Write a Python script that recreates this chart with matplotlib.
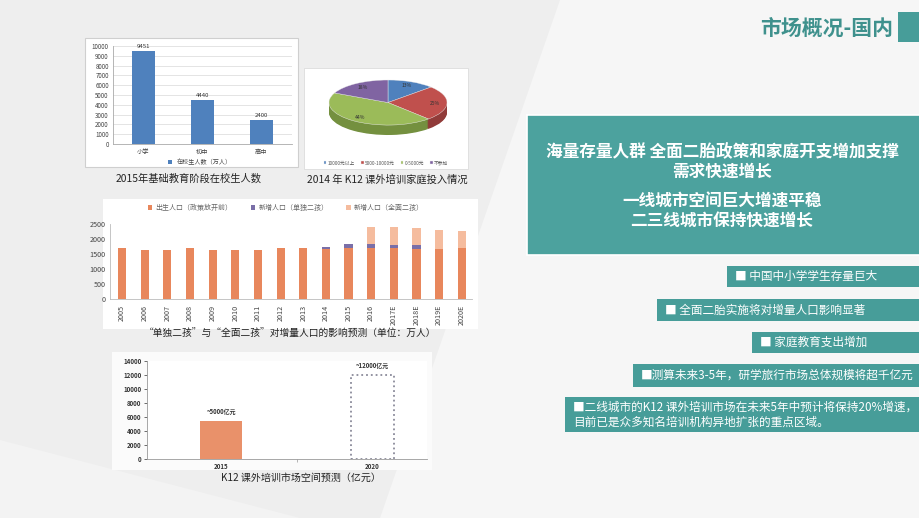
import numpy as np
import matplotlib
matplotlib.use("Agg")
import matplotlib.pyplot as plt
from matplotlib.patches import Rectangle, Polygon

plt.rcParams['font.family'] = ['Noto Sans CJK SC', 'DejaVu Sans']

W, H = 920, 518

# === Données ===
stage_names = ['小学', '初中', '高中']
stage_students = [9451, 4440, 2400]

pie_labels = ['10000元以上', '5000-10000元', '0-5000元', '不参加']
pie_shares = [13, 25, 44, 18]

years = ['2005', '2006', '2007', '2008', '2009', '2010', '2011', '2012',
         '2013', '2014', '2015', '2016', '2017E', '2018E', '2019E', '2020E']
births_base = [1690, 1635, 1635, 1690, 1635, 1635, 1635, 1690,
               1690, 1670, 1710, 1710, 1710, 1670, 1670, 1690]
add_single = [0, 0, 0, 0, 0, 0, 0, 0, 0, 50, 110, 110, 90, 130, 0, 0]
add_full = [0, 0, 0, 0, 0, 0, 0, 0, 0, 0, 0, 590, 610, 580, 640, 590]
pop_legend = ['出生人口（政策放开前）', '新增人口（单独二孩）', '新增人口（全面二孩）']

market_years = ['2015', '2020']
market_size = [5400, 12000]
market_notes = ['~5000亿元', '~12000亿元']

headline = ['海量存量人群 全面二胎政策和家庭开支增加支撑', '需求快速增长',
            '一线城市空间巨大增速平稳', '二三线城市保持快速增长']
bullets = ['■ 中国中小学学生存量巨大',
           '■ 全面二胎实施将对增量人口影响显著',
           '■ 家庭教育支出增加',
           '■测算未来3-5年，研学旅行市场总体规模将超千亿元',
           '■二线城市的K12 课外培训市场在未来5年中预计将保持20%增速，\n目前已是众多知名培训机构异地扩张的重点区域。']

TEAL = '#479d99'


def box(x0, y0, x1, y1):
    # pixels -> fraction de figure
    return [x0 / W, 1 - y1 / H, (x1 - x0) / W, (y1 - y0) / H]


def fpos(x, y):
    return (x / W, 1 - y / H)


fig = plt.figure(figsize=(W / 100, H / 100), dpi=100)
fig.patch.set_facecolor('#eeeeee')

# === Fond et éléments de la diapo ===
bg = fig.add_axes([0, 0, 1, 1])
bg.set_xlim(0, W)
bg.set_ylim(H, 0)
bg.axis('off')
bg.add_patch(Polygon([(560, 0), (920, 0), (920, 518), (380, 518)], color='#f6f6f6', lw=0))
bg.add_patch(Polygon([(0, 440), (300, 518), (0, 518)], color='#f3f3f3', lw=0))

# titre
bg.text(893, 28, '市场概况-国内', ha='right', va='center', fontsize=15,
        fontweight='bold', color='#3f918d')
bg.add_patch(Rectangle((898, 12), 22, 30, color=TEAL, lw=0))

# grand encadré
bg.add_patch(Rectangle((527, 115), 393, 140, facecolor='#4ca29e', edgecolor='white', lw=1.2))
for txt, y in zip(headline, [152, 172, 202, 222]):
    bg.text(722, y, txt, ha='center', va='center', fontsize=12, fontweight='bold', color='white')

# puces
bullet_boxes = [(727, 266, 287), (657, 299, 321), (752, 332, 353), (633, 364, 387), (565, 397, 432)]
for txt, (x0, y0, y1) in zip(bullets, bullet_boxes):
    bg.add_patch(Rectangle((x0, y0), W - x0, y1 - y0, color=TEAL, lw=0))
    bg.text(x0 + 8, (y0 + y1) / 2, txt, ha='left', va='center', fontsize=8.4,
            color='white', linespacing=1.15)

# cadres blancs des graphiques
bg.add_patch(Rectangle((85, 38), 213, 129, facecolor='white', edgecolor='#cfcfcf', lw=0.8))
bg.add_patch(Rectangle((304, 68), 164, 101, facecolor='white', edgecolor='#dcdcdc', lw=0.6))
bg.add_patch(Rectangle((103, 199), 375, 130, facecolor='white', lw=0))
bg.add_patch(Rectangle((112, 352), 320, 118, facecolor='#fbfbfb', lw=0))

# légendes sous les graphiques
bg.text(189, 179, '2015年基础教育阶段在校生人数', ha='center', va='center', fontsize=7.4, color='#222')
bg.text(387, 180, '2014 年 K12 课外培训家庭投入情况', ha='center', va='center', fontsize=7.4, color='#222')
bg.text(290, 334, '“单独二孩”与“全面二孩”对增量人口的影响预测（单位：万人）',
        ha='center', va='center', fontsize=7, color='#222')
bg.text(301, 478, 'K12 课外培训市场空间预测（亿元）', ha='center', va='center', fontsize=7.2, color='#222')

# === Graphique 1 : élèves ===
a1 = fig.add_axes(box(113, 46, 292, 144))
x1 = np.arange(len(stage_names))
b1 = a1.bar(x1, stage_students, width=0.39, color='#4f81bd', label='在校生人数（万人）', zorder=3)
for xi, v in zip(x1, stage_students):
    a1.text(xi, v + 250, str(v), ha='center', va='bottom', fontsize=4.3, color='#333')
a1.set_xlim(-0.51, 2.52)
a1.set_ylim(0, 10000)
a1.set_yticks(range(0, 10001, 1000))
a1.set_xticks(x1)
a1.set_xticklabels(stage_names)
a1.tick_params(labelsize=4.5, colors='#444', length=0, pad=3)
a1.grid(axis='y', color='#d9d9d9', lw=0.5, zorder=0)
for s in ['top', 'right']:
    a1.spines[s].set_visible(False)
for s in ['left', 'bottom']:
    a1.spines[s].set_color('#aaa')
    a1.spines[s].set_linewidth(0.6)
fig.legend(handles=[b1], loc='center', bbox_to_anchor=fpos(200, 162), frameon=False,
           fontsize=4.4, handlelength=0.7, handleheight=0.7, labelcolor='#444')

# === Graphique 2 : camembert 3D ===
a2 = fig.add_axes(box(329, 80, 447, 135))
top_cols = ['#4f81bd', '#c0504d', '#9bbb59', '#8064a2']
side_cols = ['#3b6596', '#913b39', '#74903f', '#5f4a7c']
for d in np.linspace(0.44, 0.02, 14):
    a2.pie(pie_shares, colors=side_cols, startangle=90, counterclock=False,
           center=(0, -d), wedgeprops={'linewidth': 0})
wedges, _, autotexts = a2.pie(pie_shares, colors=top_cols, startangle=90, counterclock=False,
                              autopct='%d%%', pctdistance=0.8,
                              textprops={'fontsize': 3.6, 'color': '#333'},
                              wedgeprops={'linewidth': 0.3, 'edgecolor': '#eeeeee'})
a2.set_aspect('auto')
a2.set_xlim(-1, 1)
a2.set_ylim(-1.44, 1)
a2.axis('off')
fig.legend(wedges, pie_labels, loc='center', bbox_to_anchor=fpos(386, 163), ncol=4,
           frameon=False, fontsize=3.4, handlelength=0.6, handleheight=0.6,
           columnspacing=1.2, handletextpad=0.3, labelcolor='#555')

# === Graphique 3 : population ===
a3 = fig.add_axes(box(110, 224, 472, 299))
x3 = np.arange(len(years))
base = np.array(births_base)
single = np.array(add_single)
full = np.array(add_full)
h1 = a3.bar(x3, base, width=0.36, color='#e8875c', label=pop_legend[0])
h2 = a3.bar(x3, single, width=0.36, bottom=base, color='#7a6fa8', label=pop_legend[1])
h3 = a3.bar(x3, full, width=0.36, bottom=base + single, color='#f5bc9e', label=pop_legend[2])
a3.set_xlim(-0.53, 15.45)
a3.set_ylim(0, 2500)
a3.set_yticks(range(0, 2501, 500))
a3.set_xticks(x3)
a3.set_xticklabels(years, rotation=90)
a3.tick_params(axis='y', labelsize=5.2, colors='#444', length=0, pad=3)
a3.tick_params(axis='x', labelsize=5.2, colors='#444', length=0, pad=4)
for s in ['top', 'right']:
    a3.spines[s].set_visible(False)
for s in ['left', 'bottom']:
    a3.spines[s].set_color('#bbb')
    a3.spines[s].set_linewidth(0.6)
fig.legend(handles=[h1, h2, h3], loc='center', bbox_to_anchor=fpos(286, 208), ncol=3,
           frameon=False, fontsize=5, handlelength=0.6, handleheight=0.6,
           columnspacing=2.6, handletextpad=0.5, labelcolor='#666')

# === Graphique 4 : marché ===
a4 = fig.add_axes(box(147, 361, 427, 459))
x4 = np.arange(len(market_years))
a4.bar(x4[0], market_size[0], width=0.28, color='#e9916a')
a4.bar(x4[1], market_size[1], width=0.28, fill=False, edgecolor='#8a8a9a',
       linestyle=':', linewidth=1.3)
for xi, v, note in zip(x4, market_size, market_notes):
    a4.text(xi, v + 900, note, ha='center', va='bottom', fontsize=4.3,
            fontweight='bold', color='#333')
a4.set_xlim(-0.49, 1.36)
a4.set_ylim(0, 14000)
a4.set_yticks(range(0, 14001, 2000))
a4.set_xticks(x4)
a4.set_xticklabels(market_years, fontweight='bold')
a4.set_xticks([0.5], minor=True)
a4.tick_params(axis='y', labelsize=4.4, colors='#333', length=2, width=0.5, pad=2)
a4.tick_params(axis='x', labelsize=4.4, colors='#333', length=0, pad=3)
a4.tick_params(axis='x', which='minor', length=2, width=0.5, color='#999')
for lab in a4.get_yticklabels():
    lab.set_fontweight('bold')
for s in ['top', 'right']:
    a4.spines[s].set_visible(False)
for s in ['left', 'bottom']:
    a4.spines[s].set_color('#999')
    a4.spines[s].set_linewidth(0.6)

fig.savefig('out.png', dpi=100, facecolor=fig.get_facecolor())
